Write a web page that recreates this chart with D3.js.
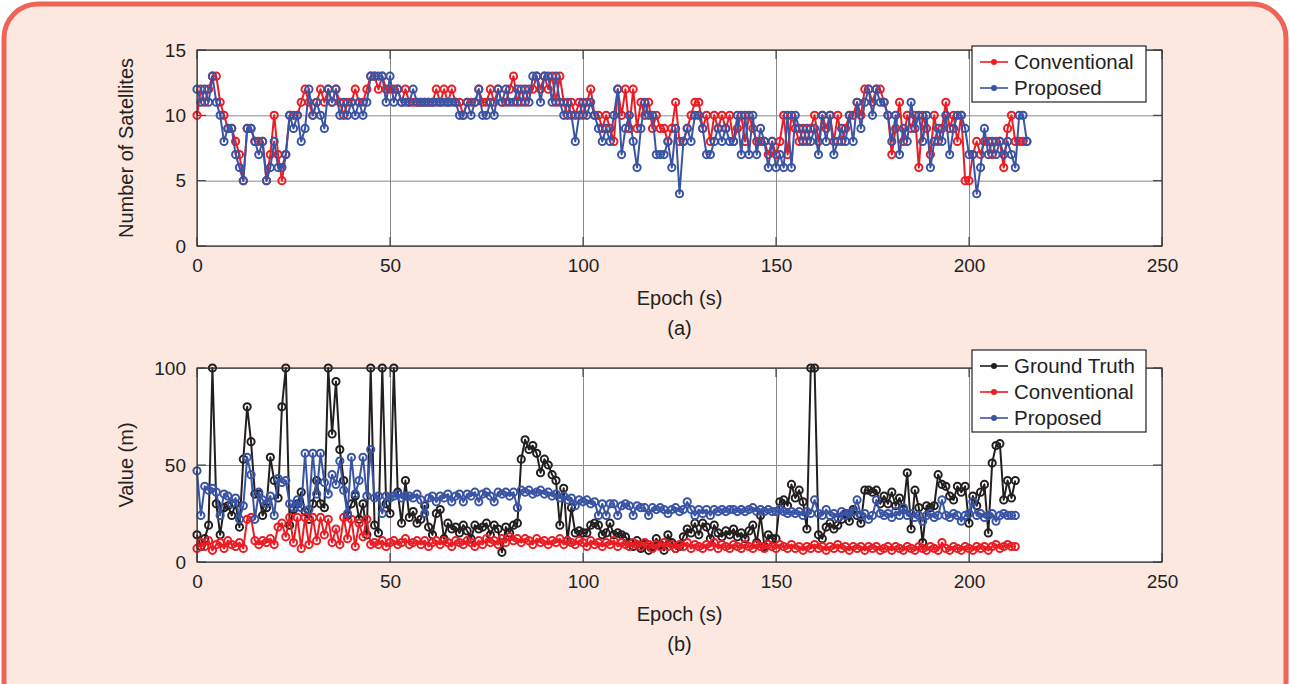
<!DOCTYPE html>
<html>
<head>
<meta charset="utf-8">
<script src="https://cdn.jsdelivr.net/npm/d3@7"></script>
<style>
  body { margin: 0; background: #fff; }
  svg { display: block; font-family: "Liberation Sans", Arial, Helvetica, sans-serif; }
  .grid line { stroke: #8a8a8a; stroke-width: 1; }
  .grid path { display: none; }
  .ticks text { font-size: 19px; fill: #222; }
  .ticks path, .ticks line { display: none; }
</style>
</head>
<body>
<div id="container"></div>
<script>
/* ---- data ---- */
// panel (a): number of satellites, one value per epoch second (0..215)
var satConventional = [
  10,12,11,12,13,13,11,10,9,9, 8,7,5,9,9,8,8,8,5,7,
  10,7,5,7,10,10,10,11,12,11, 10,11,12,11,12,11,12,11,10,11,
  11,12,11,11,12,13,13,12,13,12, 12,12,12,11,12,11,11,11,11,11,
  11,11,12,11,12,11,12,11,11,10, 11,11,11,12,11,11,12,11,12,11,
  11,12,13,11,12,11,12,12,13,12, 13,12,13,11,13,11,10,11,10,11,
  10,11,12,10,10,9,10,9,8,12, 10,12,9,12,9,11,10,11,9,10,
  9,9,8,9,11,8,8,9,10,11, 11,9,10,8,10,9,10,9,10,8,
  9,10,8,10,9,8,8,8,7,8, 7,8,10,7,10,9,8,9,8,9,
  10,8,10,9,10,8,10,8,9,10, 10,11,10,12,12,11,12,12,11,10,
  7,9,11,8,10,9,10,6,10,9, 7,10,8,9,11,9,10,8,10,5,
  5,7,8,7,8,8,7,8,8,6, 9,10,8,8,8,8
];
var satProposed = [
  12,11,12,11,13,11,10,8,9,9, 7,6,5,9,9,8,7,8,5,6,
  8,6,6,7,10,9,10,8,9,12, 10,11,10,9,12,11,12,10,11,10,
  11,10,11,10,11,13,13,13,13,11, 13,11,12,11,11,11,12,11,11,11,
  11,11,11,11,11,11,11,11,10,10, 11,10,11,12,10,10,11,10,12,11,
  12,11,11,12,11,12,11,13,13,11, 13,13,11,13,11,10,11,10,8,10,
  11,10,11,10,9,8,9,8,10,12, 7,9,10,8,6,9,11,10,10,7,
  7,7,8,6,9,4,8,9,8,10, 10,9,7,7,8,9,8,9,8,8,
  10,7,10,7,10,7,9,8,6,8, 6,7,6,10,6,10,9,8,9,8,
  9,7,10,8,10,7,8,9,8,10, 8,11,9,11,12,10,12,11,11,10,
  8,10,7,9,8,11,9,10,8,10, 6,8,9,8,10,7,9,10,10,9,
  7,7,4,6,9,7,8,7,8,7, 8,7,6,10,10,8
];

// panel (b): error values in metres, one value per epoch second (0..212)
var errGroundTruth = [
  14,8,12,19,100,30,14,28,29,24, 30,18,53,80,62,35,35,24,28,54,
  42,33,80,100,19,27,30,36,26,22, 30,42,30,28,100,66,93,58,42,24,
  30,34,22,30,14,100,19,15,100,30, 25,100,36,20,42,23,26,20,22,29,
  18,14,25,27,12,20,17,18,15,19, 16,12,19,17,18,20,14,19,17,5,
  18,15,19,20,53,63,58,60,56,46, 53,50,45,42,19,38,11,28,15,16,
  15,15,19,20,19,14,15,20,14,15, 14,13,10,8,11,7,9,6,8,12,
  9,6,14,10,7,8,13,17,15,20, 14,20,18,12,19,15,13,16,14,17,
  13,15,12,16,19,10,24,8,14,12, 12,31,32,29,40,33,37,31,17,100,
  100,14,12,18,20,17,19,22,25,21, 27,24,20,37,37,36,37,30,34,30,
  36,29,33,27,46,17,37,28,10,29, 28,29,45,40,39,34,32,39,36,39,
  20,34,29,36,40,15,51,60,61,32, 42,33,42
];
var errConventional = [
  7,10,8,11,6,9,10,7,11,9, 8,10,7,22,23,11,9,11,10,12,
  9,18,20,13,23,10,23,7,23,9, 23,11,23,14,22,10,17,9,23,12,
  22,8,20,13,22,9,10,9,11,8, 10,11,9,10,12,9,10,11,9,11,
  8,10,11,9,11,10,8,11,10,9, 11,10,8,11,9,12,10,11,9,12,
  10,13,11,12,10,12,11,9,12,10, 11,9,11,10,12,9,11,10,9,11,
  10,8,11,9,10,8,10,9,11,8, 10,9,8,10,9,8,10,9,7,9,
  8,10,8,9,7,9,8,10,7,9, 8,7,9,8,10,7,9,8,7,9,
  8,7,9,8,7,9,8,7,9,8, 7,9,8,7,9,7,8,6,8,7,
  9,7,8,6,8,7,9,7,8,6, 8,7,8,6,8,7,8,6,7,8,
  6,8,7,6,8,7,6,8,7,6, 8,7,6,10,7,6,8,7,6,8,
  7,6,8,7,8,6,8,9,7,8, 9,8,8
];
var errProposed = [
  47,24,39,37,38,36,24,35,34,30, 33,22,29,54,45,22,36,32,30,34,
  24,43,41,42,30,28,32,28,56,27, 56,35,56,41,35,45,40,52,37,25,
  54,35,42,54,34,58,33,34,25,34, 33,34,35,33,34,34,33,35,32,25,
  33,34,31,34,33,35,31,34,35,31, 35,34,36,31,35,36,34,31,36,35,
  36,34,36,28,37,36,37,35,36,37, 35,36,34,35,33,34,32,33,29,32,
  31,32,30,31,24,30,24,30,30,24, 29,30,29,24,29,28,28,24,28,27,
  28,27,25,27,28,26,27,31,27,24, 27,25,27,24,27,26,27,26,27,27,
  26,27,26,27,28,26,27,26,27,26, 26,27,26,25,26,25,26,24,26,25,
  32,25,24,27,24,25,23,26,24,25, 26,32,24,25,22,24,32,25,24,25,
  23,26,24,28,24,25,23,24,21,24, 25,23,24,32,24,23,25,24,21,24,
  25,31,24,25,23,24,25,21,24,25, 24,24,24
];

var xTicks = [0, 50, 100, 150, 200, 250];
var satTicks = [0, 5, 10, 15];
var errTicks = [0, 50, 100];

var colors = { truth: '#231f20', conv: '#ec1c24', prop: '#3a54a4' };

/* ---- canvas ---- */
var W = 1290, H = 684;
var svg = d3.select('#container').append('svg')
  .attr('width', W)
  .attr('height', H);

// panel frame
svg.append('rect')
  .attr('x', 4).attr('y', 4)
  .attr('width', W - 8).attr('height', H + 40)
  .attr('rx', 34).attr('ry', 34)
  .attr('fill', '#fde8e0')
  .attr('stroke', '#ee6459')
  .attr('stroke-width', 5);

var plotLeft = 197, plotRight = 1162;

function drawPanel(opts) {
  var g = svg.append('g');
  var x = d3.scaleLinear().domain([0, 250]).range([plotLeft, plotRight]);
  var y = d3.scaleLinear().domain(opts.yDomain).range([opts.bottom, opts.top]);

  g.append('rect')
    .attr('x', plotLeft).attr('y', opts.top)
    .attr('width', plotRight - plotLeft).attr('height', opts.bottom - opts.top)
    .attr('fill', '#fff');

  // grid
  g.append('g').classed('grid', true)
    .attr('transform', 'translate(0,' + opts.bottom + ')')
    .call(d3.axisBottom(x).tickValues(xTicks).tickSize(-(opts.bottom - opts.top)).tickFormat(''));
  g.append('g').classed('grid', true)
    .attr('transform', 'translate(' + plotLeft + ',0)')
    .call(d3.axisLeft(y).tickValues(opts.yTicks).tickSize(-(plotRight - plotLeft)).tickFormat(''));

  // tick labels
  g.append('g').classed('ticks', true)
    .attr('transform', 'translate(0,' + opts.bottom + ')')
    .call(d3.axisBottom(x).tickValues(xTicks).tickSize(0).tickPadding(13).tickFormat(d3.format('d')));
  g.append('g').classed('ticks', true)
    .attr('transform', 'translate(' + plotLeft + ',0)')
    .call(d3.axisLeft(y).tickValues(opts.yTicks).tickSize(0).tickPadding(11).tickFormat(d3.format('d')));

  // small inward ticks like matlab
  xTicks.forEach(function(t) {
    g.append('line').attr('x1', x(t)).attr('x2', x(t))
      .attr('y1', opts.bottom).attr('y2', opts.bottom - 9)
      .attr('stroke', '#333');
    g.append('line').attr('x1', x(t)).attr('x2', x(t))
      .attr('y1', opts.top).attr('y2', opts.top + 9)
      .attr('stroke', '#333');
  });
  opts.yTicks.forEach(function(t) {
    g.append('line').attr('x1', plotLeft).attr('x2', plotLeft + 9)
      .attr('y1', y(t)).attr('y2', y(t)).attr('stroke', '#333');
    g.append('line').attr('x1', plotRight).attr('x2', plotRight - 9)
      .attr('y1', y(t)).attr('y2', y(t)).attr('stroke', '#333');
  });

  // series
  opts.series.forEach(function(s) {
    var pts = s.values.map(function(v, i) { return { x: i, y: v }; });
    var line = d3.line().x(d => x(d.x)).y(d => y(d.y));
    g.append('path')
      .datum(pts)
      .attr('d', line)
      .attr('fill', 'none')
      .attr('stroke', s.color)
      .attr('stroke-width', 2)
      .attr('stroke-linejoin', 'round');
    g.append('g').selectAll('circle')
      .data(pts)
      .enter().append('circle')
      .attr('cx', d => x(d.x))
      .attr('cy', d => y(d.y))
      .attr('r', 3.6)
      .attr('fill', 'none')
      .attr('stroke', s.color)
      .attr('stroke-width', 2);
  });

  // axes box
  g.append('rect')
    .attr('x', plotLeft).attr('y', opts.top)
    .attr('width', plotRight - plotLeft).attr('height', opts.bottom - opts.top)
    .attr('fill', 'none')
    .attr('stroke', '#333')
    .attr('stroke-width', 1.2);

  // labels
  g.append('text')
    .attr('x', (plotLeft + plotRight) / 2)
    .attr('y', opts.bottom + 59)
    .attr('text-anchor', 'middle')
    .attr('font-size', 20)
    .attr('fill', '#222')
    .text('Epoch (s)');
  g.append('text')
    .attr('x', (plotLeft + plotRight) / 2)
    .attr('y', opts.bottom + 89)
    .attr('text-anchor', 'middle')
    .attr('font-size', 20)
    .attr('fill', '#222')
    .text(opts.caption);
  g.append('text')
    .attr('transform', 'translate(133,' + ((opts.top + opts.bottom) / 2) + ') rotate(-90)')
    .attr('text-anchor', 'middle')
    .attr('font-size', 20)
    .attr('fill', '#222')
    .text(opts.yLabel);

  // legend
  var lg = g.append('g').attr('transform', 'translate(972,' + opts.legendTop + ')');
  lg.append('rect')
    .attr('width', 174)
    .attr('height', 26 * opts.series.length + 4)
    .attr('fill', '#fff')
    .attr('stroke', '#222')
    .attr('stroke-width', 1.2);
  opts.series.forEach(function(s, i) {
    var cy = 16 + i * 26;
    lg.append('line').attr('x1', 8).attr('x2', 36).attr('y1', cy).attr('y2', cy)
      .attr('stroke', s.color).attr('stroke-width', 1.6);
    lg.append('circle').attr('cx', 22).attr('cy', cy).attr('r', 3)
      .attr('fill', s.color);
    lg.append('text').attr('x', 42).attr('y', cy + 7)
      .attr('font-size', 20.5).attr('fill', '#222')
      .text(s.name);
  });
}

drawPanel({
  top: 50, bottom: 246,
  yDomain: [0, 15], yTicks: satTicks,
  yLabel: 'Number of Satellites', caption: '(a)',
  legendTop: 46,
  series: [
    { name: 'Conventional', values: satConventional, color: colors.conv },
    { name: 'Proposed', values: satProposed, color: colors.prop }
  ]
});

drawPanel({
  top: 368, bottom: 562,
  yDomain: [0, 100], yTicks: errTicks,
  yLabel: 'Value (m)', caption: '(b)',
  legendTop: 350,
  series: [
    { name: 'Ground Truth', values: errGroundTruth, color: colors.truth },
    { name: 'Conventional', values: errConventional, color: colors.conv },
    { name: 'Proposed', values: errProposed, color: colors.prop }
  ]
});
</script>
</body>
</html>
